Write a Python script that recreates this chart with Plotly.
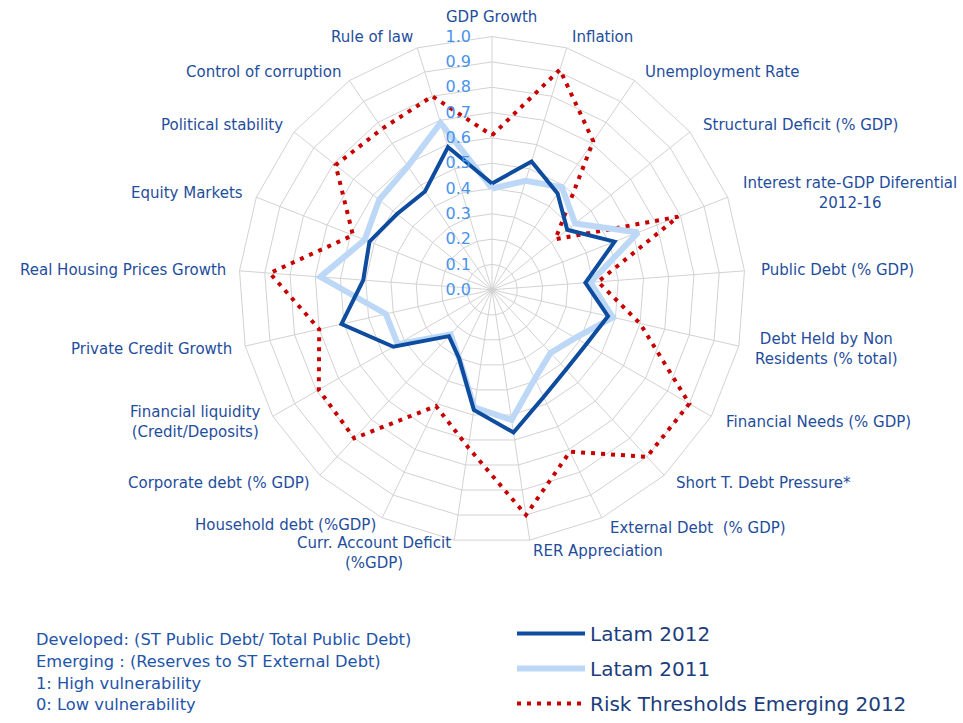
import math
import plotly.graph_objects as go

categories = [
    "GDP Growth", "Inflation", "Unemployment Rate", "Structural Deficit (% GDP)",
    "Interest rate-GDP Diferential<br>2012-16", "Public Debt (% GDP)",
    "Debt Held by Non<br>Residents (% total)", "Financial Needs (% GDP)",
    "Short T. Debt Pressure*", "External Debt  (% GDP)", "RER Appreciation",
    "Curr. Account Deficit<br>(%GDP)", "Household debt (%GDP)", "Corporate debt (% GDP)",
    "Financial liquidity<br>(Credit/Deposits)", "Private Credit Growth",
    "Real Housing Prices Growth", "Equity Markets", "Political stability",
    "Control of corruption", "Rule of law",
]

latam_2012 = [0.42, 0.53, 0.46, 0.38, 0.52, 0.37, 0.47, 0.43, 0.43, 0.47, 0.57,
              0.48, 0.30, 0.25, 0.45, 0.61, 0.51, 0.52, 0.48, 0.47, 0.59]
latam_2011 = [0.40, 0.45, 0.49, 0.42, 0.62, 0.39, 0.49, 0.38, 0.34, 0.39, 0.52,
              0.47, 0.30, 0.24, 0.43, 0.43, 0.68, 0.54, 0.57, 0.59, 0.69]
risk_2012 = [0.61, 0.91, 0.71, 0.32, 0.79, 0.42, 0.60, 0.90, 0.90, 0.71, 0.90,
             0.63, 0.51, 0.80, 0.79, 0.70, 0.88, 0.59, 0.79, 0.77, 0.80]

radial_ticks = [0.0, 0.1, 0.2, 0.3, 0.4, 0.5, 0.6, 0.7, 0.8, 0.9, 1.0]
radial_labels = ["0.0", "0.1", "0.2", "0.3", "0.4", "0.5", "0.6", "0.7", "0.8", "0.9", "1.0"]

notes = [
    "Developed: (ST Public Debt/ Total Public Debt)",
    "Emerging : (Reserves to ST External Debt)",
    "1: High vulnerability",
    "0: Low vulnerability",
]


def closed(vals):
    return list(vals) + [vals[0]]


W, H = 963, 723
CX, CY, R = 492, 293, 256  # polar centre / radius in pixels

theta = closed(categories)

fig = go.Figure()
fig.add_trace(go.Scatterpolar(
    r=closed(risk_2012), theta=theta, mode="lines",
    name="Risk Thresholds Emerging 2012", legendrank=3, legendgroup="c",
    line=dict(color="#C80000", width=4, dash="4px,6px"),
))
fig.add_trace(go.Scatterpolar(
    r=closed(latam_2011), theta=theta, mode="lines",
    name="Latam 2011", legendrank=2, legendgroup="b",
    line=dict(color="#BCD8F6", width=6),
))
fig.add_trace(go.Scatterpolar(
    r=closed(latam_2012), theta=theta, mode="lines",
    name="Latam 2012", legendrank=1, legendgroup="a",
    line=dict(color="#0D4C9E", width=4),
))

grid = "#D2D2D2"
fig.update_layout(
    width=W, height=H,
    margin=dict(l=0, r=0, t=0, b=0),
    paper_bgcolor="white",
    font=dict(family="DejaVu Sans", color="#1F4E9C"),
    polar=dict(
        domain=dict(x=[(CX - R) / W, (CX + R) / W],
                    y=[(H - CY - R) / H, (H - CY + R) / H]),
        bgcolor="white",
        gridshape="linear",
        angularaxis=dict(
            direction="clockwise", rotation=90,
            gridcolor=grid, gridwidth=1,
            linecolor=grid, linewidth=1, showline=True,
            ticks="", showticklabels=False,
        ),
        radialaxis=dict(
            range=[0, 1], angle=90, tickangle=90,
            tickvals=radial_ticks, ticktext=radial_labels,
            gridcolor=grid, gridwidth=1,
            showline=False, ticks="outside", ticklen=15, tickcolor="rgba(0,0,0,0)",
            side="counterclockwise",
            tickfont=dict(size=16, color="#4A92EA", family="DejaVu Sans"),
        ),
    ),
    showlegend=True,
    legend=dict(
        x=512 / W, y=(H - 621) / H, xanchor="left", yanchor="top",
        font=dict(size=20, color="#1C3E7C", family="DejaVu Sans"),
        traceorder="grouped", tracegroupgap=6,
        bgcolor="rgba(0,0,0,0)", itemwidth=68,
    ),
)

# category labels placed around the outer ring (Excel-like placement)
n = len(categories)
nudge = {"Household debt (%GDP)": -3, "Curr. Account Deficit<br>(%GDP)": 2}
for i, lab in enumerate(categories):
    a = math.radians(i * 360 / n)
    s, c = math.sin(a), math.cos(a)
    ex, ey = CX + R * s, CY - R * c
    if abs(s) < 0.05:
        xa, ya, px, py = "center", "bottom", ex, ey - 10
    elif s > 0:
        xa, ya, px, py = "left", "middle", ex + 13 * s, ey - 11 * c
    else:
        xa, ya, px, py = "right", "middle", ex + 10 * s, ey - 11 * c
    py += nudge.get(lab, 0)
    fig.add_annotation(
        text=lab, x=px / W, y=(H - py) / H, xref="paper", yref="paper",
        xanchor=xa, yanchor=ya, align="center", showarrow=False, borderpad=0,
        font=dict(size=15, color="#1F4E9C", family="DejaVu Sans"),
    )

ys = [647, 669, 691, 712]
for txt, yy in zip(notes, ys):
    fig.add_annotation(
        text=txt, x=35 / W, y=(H - yy) / H, xref="paper", yref="paper",
        xanchor="left", yanchor="middle", showarrow=False, borderpad=0,
        font=dict(size=16.3, color="#1F55A8", family="DejaVu Sans"),
    )

page_fix = (
    "document.documentElement.style.margin='0';"
    "document.documentElement.style.overflow='hidden';"
    "document.body.style.margin='0';"
    "document.body.style.overflow='hidden';"
)
fig.write_html("out.html", post_script=page_fix,
               config={"displayModeBar": False, "responsive": False})
